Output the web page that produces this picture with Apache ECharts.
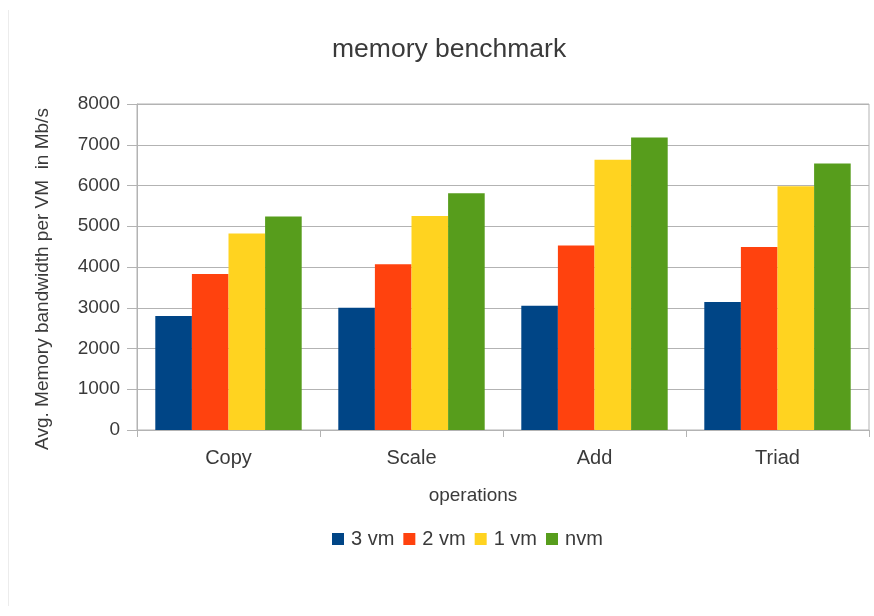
<!DOCTYPE html>
<html>
<head>
<meta charset="utf-8">
<script src="https://cdn.jsdelivr.net/npm/echarts@6/dist/echarts.min.js"></script>
<style>
html,body{margin:0;padding:0;background:#fff;}
#frame{position:absolute;left:8px;top:10px;width:866px;height:596px;border-left:1px solid #ececec;}
#c{position:absolute;left:0;top:0;width:874px;height:616px;}
</style>
</head>
<body>
<div id="frame"></div>
<div id="c"></div>
<script>
const categories = ['Copy', 'Scale', 'Add', 'Triad'];
const seriesNames = ['3 vm', '2 vm', '1 vm', 'nvm'];
const vm3 = [2800, 3000, 3050, 3140];
const vm2 = [3830, 4070, 4530, 4490];
const vm1 = [4820, 5250, 6630, 5980];
const nvm = [5240, 5810, 7180, 6540];
const yTicks = [0, 1000, 2000, 3000, 4000, 5000, 6000, 7000, 8000];
const colors = ['#004586', '#ff420e', '#ffd320', '#579d1c'];

const font = 'Liberation Sans, Arial, sans-serif';
const chart = echarts.init(document.getElementById('c'));
const data = [vm3, vm2, vm1, nvm];
chart.setOption({
  animation: false,
  color: colors,
  textStyle: { fontFamily: font },
  title: {
    text: 'memory benchmark',
    left: 327,
    top: 31,
    textStyle: { fontFamily: font, fontSize: 26.5, fontWeight: 'normal', color: '#3a3a3a' }
  },
  legend: {
    data: seriesNames,
    top: 524,
    left: 327,
    icon: 'rect',
    itemWidth: 12,
    itemHeight: 12,
    itemGap: 9,
    textStyle: { fontFamily: font, fontSize: 20, color: '#3a3a3a', padding: [0, 0, 0, 2] }
  },
  grid: {
    left: 137, right: 5, top: 104, bottom: 186,
    show: true, borderColor: '#b3b3b3', borderWidth: 1
  },
  xAxis: {
    type: 'category',
    data: categories,
    name: 'operations',
    nameLocation: 'middle',
    nameGap: 56,
    nameTextStyle: { fontFamily: font, fontSize: 19, color: '#3a3a3a', padding: [0, 60, 0, 0] },
    axisLine: { lineStyle: { color: '#b3b3b3' } },
    axisTick: { show: true, length: 7, lineStyle: { color: '#b3b3b3' } },
    axisLabel: { fontFamily: font, fontSize: 20, color: '#3a3a3a', margin: 18 }
  },
  yAxis: {
    type: 'value',
    min: yTicks[0],
    max: yTicks[yTicks.length - 1],
    interval: yTicks[1] - yTicks[0],
    name: 'Avg. Memory bandwidth per VM  in Mb/s',
    nameLocation: 'middle',
    nameGap: 85,
    nameTextStyle: { fontFamily: font, fontSize: 19, color: '#3a3a3a', padding: [0, 24, 0, 0] },
    axisLine: { show: true, lineStyle: { color: '#b3b3b3' } },
    axisTick: { show: true, length: 10, lineStyle: { color: '#b3b3b3' } },
    axisLabel: { fontFamily: font, fontSize: 19, color: '#3a3a3a', margin: 17, formatter: v => String(v) },
    splitLine: { lineStyle: { color: '#b3b3b3' } }
  },
  series: seriesNames.map((n, i) => ({
    name: n,
    type: 'bar',
    data: data[i],
    barGap: '0%',
    barCategoryGap: '20%'
  }))
});
</script>
</body>
</html>
